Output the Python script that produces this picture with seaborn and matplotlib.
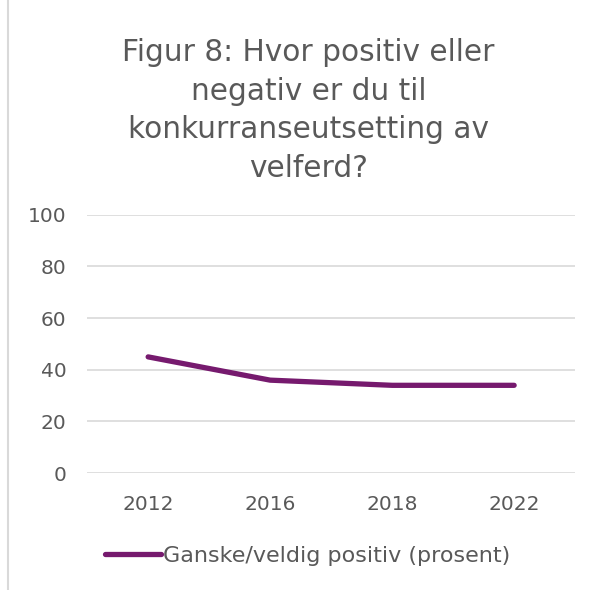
import matplotlib
matplotlib.use("Agg")
import matplotlib.pyplot as plt
from matplotlib.lines import Line2D
import pandas as pd
import seaborn as sns

years = ["2012", "2016", "2018", "2022"]
positive_share = [45, 36, 34, 34]
series_label = "Ganske/veldig positiv (prosent)"
y_ticks = [0, 20, 40, 60, 80, 100]
title = "Figur 8: Hvor positiv eller\nnegativ er du til\nkonkurranseutsetting av\nvelferd?"

line_color = "#761A6E"
text_color = "#595959"
grid_color = "#D9D9D9"


def main() -> None:
    sns.set_theme(style="white")
    plt.rcParams["font.family"] = ["DejaVu Sans"]

    plot_df = pd.DataFrame({"year": years, "value": positive_share})

    fig = plt.figure(figsize=(6.01, 5.90), dpi=100)
    ax = fig.add_axes([0.145, 0.198, 0.812, 0.438])
    sns.lineplot(
        data=plot_df,
        x="year",
        y="value",
        color=line_color,
        linewidth=3.8,
        solid_capstyle="round",
        solid_joinstyle="round",
        label=series_label,
        ax=ax,
    )
    ax.set_xlim(-0.5, len(years) - 0.5)
    ax.set_ylim(0, 100)
    ax.set_yticks(y_ticks)
    ax.yaxis.grid(True, color=grid_color, linewidth=1.2)
    ax.set_axisbelow(True)
    for spine in ax.spines.values():
        spine.set_visible(False)
    ax.tick_params(axis="both", length=0, labelsize=14.5, labelcolor=text_color)
    ax.tick_params(axis="x", pad=16)
    ax.tick_params(axis="y", pad=15)
    ax.set_xlabel("")
    ax.set_ylabel("")

    ax.legend(
        loc="center",
        bbox_to_anchor=(0.512, 0.058),
        bbox_transform=fig.transFigure,
        frameon=False,
        fontsize=16,
        labelcolor=text_color,
        handlelength=2.5,
        handletextpad=0.1,
    )

    fig.text(
        0.513,
        0.813,
        title,
        ha="center",
        va="center",
        fontsize=21.3,
        color=text_color,
        linespacing=1.42,
    )

    fig.add_artist(
        Line2D([0.014, 0.014], [0.0, 1.0], transform=fig.transFigure,
               color=grid_color, linewidth=1.5)
    )

    fig.savefig("out.png", dpi=100)
    plt.close(fig)


if __name__ == "__main__":
    main()
